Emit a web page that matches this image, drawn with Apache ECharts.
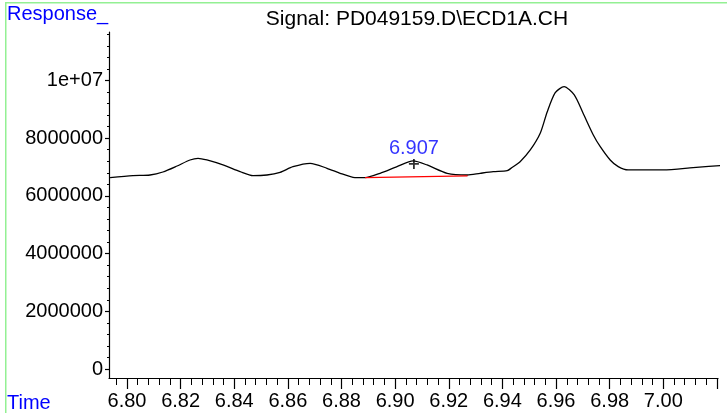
<!DOCTYPE html>
<html>
<head>
<meta charset="utf-8">
<script src="https://cdn.jsdelivr.net/npm/echarts@6/dist/echarts.min.js"></script>
<style>
html,body{margin:0;padding:0;background:#fff;}
#chart{width:727px;height:413px;}
</style>
</head>
<body>
<div id="chart"></div>
<script>
// ---- data ----
var times = [6.7937, 6.8022, 6.8086, 6.8134, 6.8187, 6.8235, 6.8265, 6.8298, 6.8358, 6.8422,
  6.8470, 6.8522, 6.8571, 6.8619, 6.8683, 6.8746, 6.8795, 6.8843, 6.8888, 6.8944,
  6.9007, 6.9067, 6.9119, 6.9194, 6.9269, 6.9317, 6.9366, 6.9418, 6.9436, 6.9466,
  6.9504, 6.9541, 6.9567, 6.9597, 6.9630, 6.9668, 6.9701, 6.9739, 6.9765, 6.9802,
  6.9832, 6.9869, 7.0000, 7.0111, 7.0238];
var responses = [6631000, 6700000, 6724000, 6828000, 7036000, 7244000, 7303000, 7244000, 7071000, 6839000,
  6700000, 6724000, 6818000, 7012000, 7130000, 6957000, 6783000, 6645000, 6631000, 6783000,
  7012000, 7210000, 7071000, 6783000, 6724000, 6783000, 6839000, 6873000, 6984000, 7185000,
  7591000, 8170000, 8908000, 9577000, 9785000, 9497000, 8863000, 8111000, 7705000, 7244000,
  7012000, 6898000, 6898000, 6977000, 7071000];
var baselineTimes = [6.8888, 6.9270];
var baselineValues = [6631000, 6690000];
var peakTime = 6.907;
var peakResponse = 7106000;
var peakLabel = '6.907';

var xTickValues = [6.80, 6.82, 6.84, 6.86, 6.88, 6.90, 6.92, 6.94, 6.96, 6.98, 7.00, 7.02];
var xTickLabels = ['6.80', '6.82', '6.84', '6.86', '6.88', '6.90', '6.92', '6.94', '6.96', '6.98', '7.00', ''];
var yTickValues = [0, 2000000, 4000000, 6000000, 8000000, 10000000];
var yTickLabels = ['0', '2000000', '4000000', '6000000', '8000000', '1e+07'];

var titleText = 'Signal: PD049159.D\\ECD1A.CH';
var yName = 'Response_';
var xName = 'Time';

// ---- axis ranges / minor ticks ----
var xMin = 6.7933, xMax = 7.0204;
var yMin = -312000, yMax = 11680000;
var xMinor = [];
for (var i = 0; i <= 56; i++) { xMinor.push(+(6.796 + i * 0.004).toFixed(3)); }
var yMinor = [];
for (var j = 0; j <= 29; j++) { yMinor.push(j * 400000); }

var FONT = 'Liberation Sans';

var lineData = times.map(function (t, k) { return [t, responses[k]]; });
var baseData = baselineTimes.map(function (t, k) { return [t, baselineValues[k]]; });

var chart = echarts.init(document.getElementById('chart'), null, {renderer: 'canvas'});
chart.setOption({
  animation: false,
  backgroundColor: '#ffffff',
  grid: {left: 109, right: 9, top: 32, bottom: 35},
  xAxis: [{
    type: 'value', min: xMin, max: xMax,
    axisLine: {show: true, onZero: false, lineStyle: {color: '#000', width: 1.2}},
    axisTick: {length: 11, customValues: xTickValues, lineStyle: {color: '#000', width: 1.2}},
    axisLabel: {customValues: xTickValues, margin: 13, color: '#000', fontFamily: FONT, fontSize: 20,
      formatter: function (v) { var idx = xTickValues.findIndex(function (t) { return Math.abs(t - v) < 1e-6; }); return idx >= 0 ? xTickLabels[idx] : ''; }},
    splitLine: {show: false}
  }, {
    type: 'value', min: xMin, max: xMax, position: 'bottom',
    axisLine: {show: false, onZero: false},
    axisTick: {length: 7, customValues: xMinor, lineStyle: {color: '#000', width: 1}},
    axisLabel: {show: false},
    splitLine: {show: false}
  }],
  yAxis: [{
    type: 'value', min: yMin, max: yMax,
    axisLine: {show: true, onZero: false, lineStyle: {color: '#000', width: 1.2}},
    axisTick: {show: true, length: 4, customValues: yTickValues, lineStyle: {color: '#000', width: 1.2}},
    axisLabel: {customValues: yTickValues, margin: 6, color: '#000', fontFamily: FONT, fontSize: 20,
      formatter: function (v) { var idx = yTickValues.indexOf(Math.round(v)); return idx >= 0 ? yTickLabels[idx] : ''; }},
    splitLine: {show: false}
  }, {
    type: 'value', min: yMin, max: yMax, position: 'left',
    axisLine: {show: false, onZero: false},
    axisTick: {show: true, length: 2, customValues: yMinor, lineStyle: {color: '#000', width: 1}},
    axisLabel: {show: false},
    splitLine: {show: false}
  }],
  graphic: [
    {type: 'rect', shape: {x: 5, y: 2, width: 722, height: 1.5}, style: {fill: '#93f093'}, silent: true},
    {type: 'rect', shape: {x: 5, y: 2, width: 1.5, height: 411}, style: {fill: '#93f093'}, silent: true},
    {type: 'text', left: 7, top: 4, style: {text: yName, fill: '#0000ff', font: '20px ' + FONT}},
    {type: 'text', x: 417, y: 19.5, style: {text: titleText, fill: '#000', font: '21px ' + FONT, align: 'center', verticalAlign: 'middle'}},
    {type: 'text', x: 7, y: 403, style: {text: xName, fill: '#0000ff', font: '20px ' + FONT, align: 'left', verticalAlign: 'middle'}}
  ],
  series: [{
    type: 'line', xAxisIndex: 0, yAxisIndex: 0, data: lineData, showSymbol: false, smooth: 0.25, clip: false,
    lineStyle: {color: '#000', width: 1.3}, silent: true
  }, {
    type: 'line', xAxisIndex: 0, yAxisIndex: 0, data: baseData, showSymbol: false,
    lineStyle: {color: '#ff0000', width: 1.3}, silent: true
  }, {
    type: 'scatter', xAxisIndex: 0, yAxisIndex: 0, data: [[peakTime, peakResponse]],
    symbol: 'path://M-0.9,-5H0.9V-0.9H5V0.9H0.9V5H-0.9V0.9H-5V-0.9H-0.9Z', symbolSize: 10,
    itemStyle: {color: '#000'},
    label: {show: true, position: 'top', distance: 0, formatter: peakLabel, color: '#0000ff', fontFamily: FONT, fontSize: 20},
    silent: true
  }]
});
</script>
</body>
</html>
